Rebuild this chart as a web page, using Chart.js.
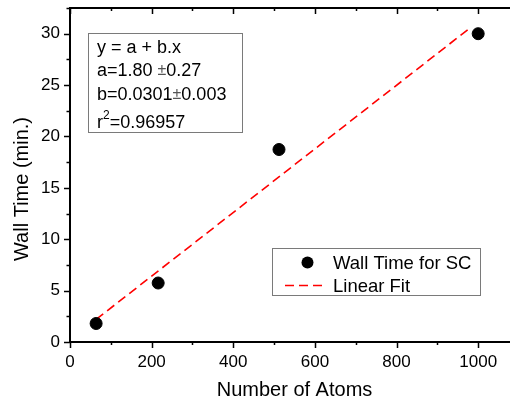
<!DOCTYPE html>
<html>
<head>
<meta charset="utf-8">
<script src="https://cdn.jsdelivr.net/npm/chart.js@4/dist/chart.umd.min.js"></script>
<style>
  html, body { margin: 0; padding: 0; overflow: hidden; background: #fff; }
  #wrap { width: 520px; height: 403px; overflow: hidden; }
  #c { width: 520px; height: 403px; display: block; }
</style>
</head>
<body>
<div id="wrap"><canvas id="c" width="520" height="403"></canvas></div>
<script>
// ---- data ----
const atoms = [64, 216, 512, 1000];
const wallTime = [1.8, 5.74, 18.73, 30.0];
const fitAtoms = [64, 975];
const fitTime = [2.2, 30.4];
const xTickLabels = [0, 200, 400, 600, 800, 1000];
const yTickLabels = [0, 5, 10, 15, 20, 25, 30];
const seriesNames = ['Wall Time for SC', 'Linear Fit'];
const fitText = ['y = a + b.x', ['a=1.80 ', '±', '0.27'], ['b=0.0301', '±', '0.003'], 'r2=0.96957'];

const FONT = '"Liberation Sans", Arial, sans-serif';

const decor = {
  id: 'decor',
  afterDraw(chart) {
    const ctx = chart.ctx;
    const xs = chart.scales.x, ys = chart.scales.y;
    const a = chart.chartArea;
    ctx.save();
    ctx.strokeStyle = '#000';
    ctx.lineWidth = 2;
    // top and right frame
    ctx.beginPath();
    ctx.moveTo(a.left - 1, a.top); ctx.lineTo(a.right + 1, a.top);
    ctx.moveTo(a.right, a.top); ctx.lineTo(a.right, a.bottom);
    ctx.stroke();
    ctx.lineWidth = 1.5;
    // x ticks bottom (outward) and top (inward)
    for (let v = 0; v <= 1100; v += 100) {
      const px = Math.round(xs.getPixelForValue(v)) + 0.5;
      const major = v % 200 === 0;
      const len = major ? 6 : 3;
      ctx.beginPath();
      ctx.moveTo(px, a.bottom); ctx.lineTo(px, a.bottom + len);
      ctx.moveTo(px, a.top); ctx.lineTo(px, a.top + len);
      ctx.stroke();
    }
    // y ticks left (outward)
    for (let v = 0; v <= 32.5; v += 2.5) {
      const py = Math.round(ys.getPixelForValue(v)) + 0.5;
      const major = v % 5 === 0;
      const len = major ? 6 : 3.5;
      ctx.beginPath();
      ctx.moveTo(a.left, py); ctx.lineTo(a.left - len, py);
      ctx.stroke();
    }
    // y title
    ctx.save();
    ctx.translate(22, 189);
    ctx.rotate(-Math.PI / 2);
    ctx.font = '20px ' + FONT;
    ctx.fillStyle = '#000';
    ctx.textAlign = 'center';
    ctx.textBaseline = 'middle';
    ctx.fillText('Wall Time (min.)', 0, 0);
    ctx.restore();

    // fit parameter box
    ctx.lineWidth = 1;
    ctx.strokeStyle = '#7a7a7a';
    ctx.strokeRect(88.5, 33.5, 154, 99);
    ctx.fillStyle = '#000';
    ctx.textBaseline = 'alphabetic';
    ctx.textAlign = 'left';
    const big = '18px ' + FONT;
    const bx = 97;
    const baselines = [53, 76, 99.5, 128];
    fitText.forEach((line, i) => {
      const y = baselines[i];
      if (Array.isArray(line)) {
        let x = bx;
        ctx.font = big; ctx.fillStyle = '#000';
        ctx.fillText(line[0], x, y); x += ctx.measureText(line[0]).width;
        ctx.font = '16px ' + FONT; ctx.fillStyle = '#555';
        ctx.fillText(line[1], x, y - 1); x += ctx.measureText(line[1]).width;
        ctx.font = big; ctx.fillStyle = '#000';
        ctx.fillText(line[2], x, y);
      } else if (line.startsWith('r2')) {
        ctx.font = big;
        ctx.fillText('r', bx, y);
        let x = bx + ctx.measureText('r').width;
        ctx.font = '12px ' + FONT;
        ctx.fillText('2', x, y - 9);
        x += ctx.measureText('2').width;
        ctx.font = big;
        ctx.fillText(line.slice(2), x, y);
      } else {
        ctx.font = big;
        ctx.fillText(line, bx, y);
      }
    });

    // legend box
    ctx.strokeStyle = '#7a7a7a';
    ctx.lineWidth = 1;
    ctx.strokeRect(272.5, 248.5, 208, 47);
    const ds0 = chart.data.datasets[0], ds1 = chart.data.datasets[1];
    ctx.fillStyle = ds0.backgroundColor;
    ctx.beginPath();
    ctx.arc(307.5, 262.5, 6, 0, Math.PI * 2);
    ctx.fill();
    ctx.strokeStyle = ds1.borderColor;
    ctx.lineWidth = ds1.borderWidth;
    ctx.setLineDash([9, 5]);
    ctx.beginPath();
    ctx.moveTo(285, 285.5); ctx.lineTo(327, 285.5);
    ctx.stroke();
    ctx.setLineDash([]);
    ctx.fillStyle = '#000';
    ctx.font = '18.5px ' + FONT;
    ctx.fillText(ds0.label, 333, 268.5);
    ctx.fillText(ds1.label, 333, 291.5);
    ctx.restore();
  }
};

new Chart(document.getElementById('c'), {
  type: 'scatter',
  data: {
    datasets: [
      {
        label: seriesNames[0],
        data: atoms.map((x, i) => ({ x, y: wallTime[i] })),
        backgroundColor: '#000',
        borderColor: '#000',
        pointRadius: 6,
        pointHoverRadius: 6,
        showLine: false,
        order: 1
      },
      {
        label: seriesNames[1],
        data: fitAtoms.map((x, i) => ({ x, y: fitTime[i] })),
        borderColor: '#ff0000',
        backgroundColor: '#ff0000',
        borderWidth: 1.6,
        borderDash: [9, 5],
        pointRadius: 0,
        showLine: true,
        order: 2
      }
    ]
  },
  options: {
    responsive: false,
    animation: false,
    events: [],
    layout: { autoPadding: false, padding: { top: 8, right: 1, left: 0, bottom: 0 } },
    plugins: { legend: { display: false }, tooltip: { enabled: false } },
    scales: {
      x: {
        type: 'linear',
        position: 'bottom',
        min: 0, max: 1100,
        afterBuildTicks: s => { s.ticks = xTickLabels.map(v => ({ value: v })); },
        afterFit: s => { s.height = 61; s.paddingLeft = 0; s.paddingRight = 0; },
        grid: { display: false, drawTicks: false, tickLength: 0 },
        border: { display: true, color: '#000', width: 2 },
        ticks: { color: '#000', font: { family: FONT, size: 17 }, padding: 10, maxRotation: 0, callback: v => String(v) },
        title: { display: true, text: 'Number of Atoms', color: '#000', font: { family: FONT, size: 20 }, padding: { top: 0, bottom: 1 } }
      },
      y: {
        type: 'linear',
        min: 0, max: 32.5,
        afterBuildTicks: s => { s.ticks = yTickLabels.map(v => ({ value: v })); },
        afterFit: s => { s.width = 70; s.paddingTop = 0; s.paddingBottom = 0; },
        grid: { display: false, drawTicks: false, tickLength: 0 },
        border: { display: true, color: '#000', width: 2 },
        ticks: { color: '#000', font: { family: FONT, size: 17 }, padding: 10, callback: v => String(v) }
      }
    }
  },
  plugins: [decor]
});
</script>
</body>
</html>
